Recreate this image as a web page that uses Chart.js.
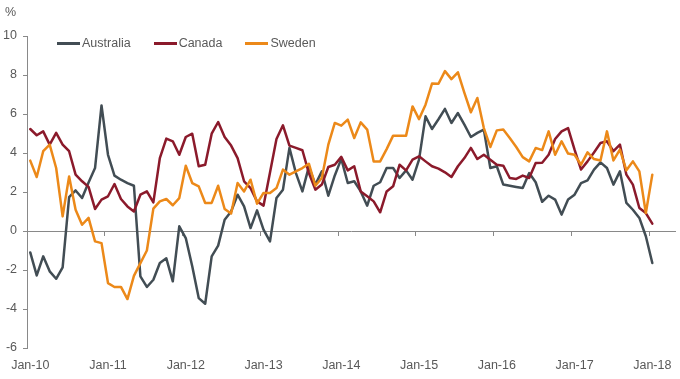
<!DOCTYPE html>
<html>
<head>
<meta charset="utf-8">
<script src="https://cdn.jsdelivr.net/npm/chart.js@4"></script>
<style>
  body { margin: 0; background: #fff; }
  #wrap { position: relative; width: 680px; height: 379px; }
  .txt { font-family: "Liberation Sans", Arial, sans-serif; font-size: 12.5px; color: #595959; }
  #unit { position: absolute; left: 5px; top: 5px; }
  #legend { position: absolute; left: 57px; top: 36px; display: flex; align-items: center; }
  #legend .item { display: flex; align-items: center; margin-right: 23px; }
  #legend .swatch { width: 23px; height: 3px; margin-right: 2px; }
</style>
</head>
<body>
<div id="wrap">
  <canvas id="myChart" width="680" height="379"></canvas>
  <div id="unit" class="txt">%</div>
  <div id="legend" class="txt"></div>
</div>
<script>
// monthly, Jan-10 .. Jan-18
var seriesNames = ['Australia', 'Canada', 'Sweden'];
var seriesColors = ['#424d54', '#8b1a2b', '#ec8919'];

var australia = [
  -1.1, -2.28, -1.3, -2.07, -2.45, -1.87, 1.74, 2.08, 1.69, 2.49,
  3.23, 6.44, 3.91, 2.84, 2.63, 2.46, 2.32, -2.33, -2.87, -2.5,
  -1.64, -1.4, -2.58, 0.24, -0.36, -1.81, -3.44, -3.73, -1.3, -0.75,
  0.58, 1.0, 1.86, 1.26, 0.15, 1.06, 0.07, -0.53, 1.69, 2.12,
  4.26, 2.97, 2.03, 3.3, 2.38, 3.06, 1.81, 2.85, 3.7, 2.46,
  2.55, 2.03, 1.3, 2.32, 2.5, 3.23, 3.23, 2.72, 3.11, 2.63,
  3.66, 5.88, 5.23, 5.73, 6.26, 5.54, 6.05, 5.45, 4.82, 5.03,
  5.2, 3.23, 3.32, 2.38, 2.32, 2.26, 2.2, 2.97, 2.5, 1.5,
  1.81, 1.61, 0.84, 1.61, 1.86, 2.46, 2.6, 3.15, 3.52, 3.23,
  2.38, 3.06, 1.44, 1.09, 0.67, -0.27, -1.64
];
var canada = [
  5.23, 4.91, 5.11, 4.43, 5.03, 4.43, 4.09, 2.89, 2.55, 2.26,
  1.13, 1.61, 1.78, 2.41, 1.64, 1.26, 1.0, 1.86, 2.03, 1.47,
  3.74, 4.74, 4.6, 3.91, 4.82, 4.99, 3.32, 3.4, 4.99, 5.59,
  4.82, 4.38, 3.74, 2.55, 2.2, 1.52, 1.3, 3.0, 4.72, 5.42,
  4.38, 4.26, 4.14, 2.97, 2.12, 2.38, 3.28, 3.4, 3.8, 3.11,
  3.32, 2.03, 1.78, 1.52, 0.96, 2.03, 2.29, 3.4, 3.11, 3.66,
  3.83, 3.57, 3.32, 3.2, 3.01, 2.77, 3.32, 3.74, 4.26, 3.69,
  3.91, 3.66, 3.4, 3.35, 2.72, 2.67, 2.84, 2.72, 3.49, 3.5,
  3.91, 4.72, 5.11, 5.28, 4.17, 3.15, 3.57, 4.03, 4.51, 4.6,
  4.09, 4.43, 2.89, 2.38, 1.18, 0.92, 0.38
];
var sweden = [
  3.61, 2.77, 4.09, 4.43, 3.23, 0.75, 2.8, 1.09, 0.32, 0.67,
  -0.53, -0.62, -2.67, -2.87, -2.87, -3.49, -2.3, -1.65, -1.0, 1.15,
  1.52, 1.64, 1.32, 1.69, 3.35, 2.46, 2.29, 1.44, 1.44, 2.32,
  1.13, 0.9, 2.46, 2.03, 2.63, 1.4, 1.95, 1.95, 2.2, 3.15,
  2.89, 3.06, 3.23, 3.45, 2.32, 2.72, 4.43, 5.54, 5.4, 5.71,
  4.77, 5.57, 5.2, 3.57, 3.57, 4.2, 4.89, 4.89, 4.89, 6.39,
  5.74, 6.48, 7.56, 7.55, 8.2, 7.79, 8.14, 7.08, 6.09, 6.82,
  5.28, 4.31, 5.16, 5.2, 4.77, 4.31, 3.79, 3.57, 4.26, 4.15,
  5.11, 3.91, 4.6, 3.97, 3.91, 3.4, 4.03, 3.69, 3.62, 5.11,
  3.62, 4.17, 3.11, 3.57, 3.06, 0.92, 2.89
];

// axis runs a few empty months past Jan-18
var months = ['Jan','Feb','Mar','Apr','May','Jun','Jul','Aug','Sep','Oct','Nov','Dec'];
var labels = [];
for (var y = 10; y <= 18; y++) {
  for (var m = 0; m < 12; m++) {
    labels.push(months[m] + '-' + y);
  }
}
labels = labels.slice(0, 100);

var axisColor = '#898989';
var textColor = '#595959';
var font = { family: 'Liberation Sans, Arial, sans-serif', size: 12.5 };

// legend
var legend = document.getElementById('legend');
seriesNames.forEach(function (name, i) {
  legend.innerHTML += '<div class="item"><span class="swatch" style="background:' +
    seriesColors[i] + '"></span>' + name + '</div>';
});

var allData = [australia, canada, sweden];
var datasets = allData.map(function (d, i) {
  return {
    label: seriesNames[i],
    data: d,
    borderColor: seriesColors[i],
    backgroundColor: seriesColors[i],
    borderWidth: 2.5,
    pointRadius: 0,
    tension: 0,
    borderJoinStyle: 'round',
    borderCapStyle: 'round',
    order: 3 - i
  };
});

var ctx = document.getElementById('myChart');
var myChart = new Chart(ctx, {
  type: 'line',
  data: { labels: labels, datasets: datasets },
  options: {
    responsive: false,
    animation: false,
    devicePixelRatio: 1,
    layout: { padding: { top: 36, right: 5, left: 0, bottom: 0 } },
    plugins: { legend: { display: false }, tooltip: { enabled: false } },
    scales: {
      x: {
        type: 'category',
        offset: true,
        grid: { display: false },
        border: { display: false },
        ticks: {
          autoSkip: false,
          maxRotation: 0,
          minRotation: 0,
          padding: 2,
          color: textColor,
          font: font,
          callback: function (v, i) { return i % 12 === 0 ? labels[i] : ''; }
        },
        afterFit: function (s) { s.height = 31; }
      },
      x2: {
        type: 'category',
        position: { y: 0 },
        offset: true,
        ticks: { display: false, autoSkip: false },
        border: { display: true, color: axisColor, width: 1 },
        grid: {
          offset: true,
          drawOnChartArea: false,
          drawTicks: true,
          tickLength: 4,
          color: function (c) { return c.index % 12 === 0 ? axisColor : 'rgba(0,0,0,0)'; }
        }
      },
      y: {
        min: -6,
        max: 10,
        border: { display: true, color: axisColor, width: 1 },
        grid: { drawOnChartArea: false, drawTicks: true, tickLength: 4, color: axisColor },
        ticks: { stepSize: 2, padding: 6, color: textColor, font: font },
        afterFit: function (s) { s.width = 27; }
      }
    }
  }
});
</script>
</body>
</html>
